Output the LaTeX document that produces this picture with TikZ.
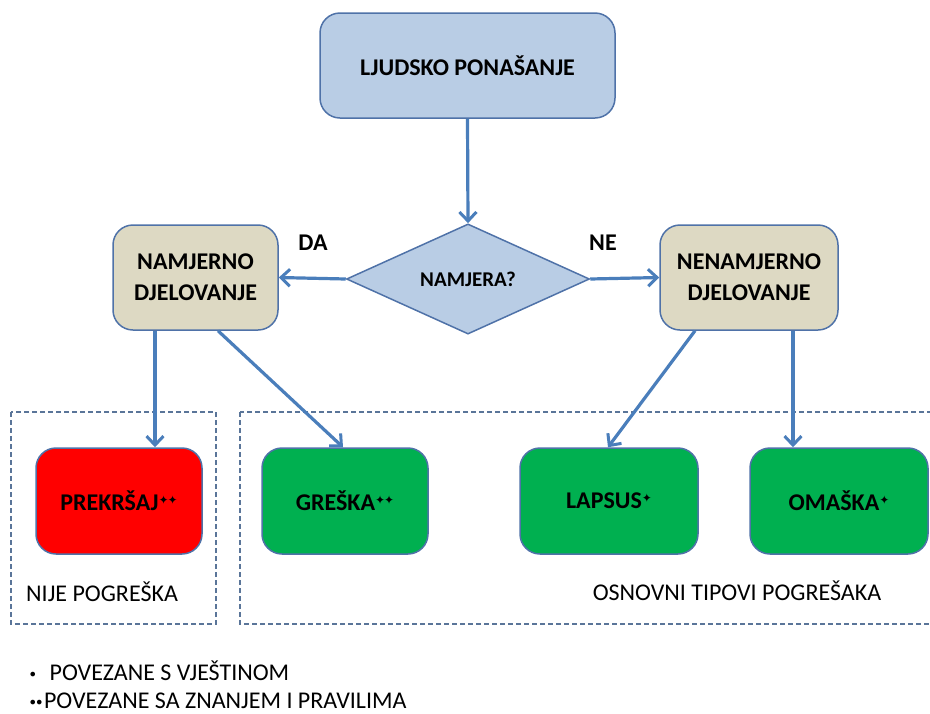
\documentclass[tikz,border=0pt]{standalone}
\usepackage{fontspec}
\setmainfont{Carlito}
\newfontfamily\symfont{DejaVu Sans}
\usetikzlibrary{arrows.meta,shapes.geometric}
\definecolor{bluefill}{HTML}{B9CDE5}
\definecolor{boxline}{HTML}{4F72A8}
\definecolor{tanfill}{HTML}{DDD9C3}
\definecolor{redfill}{HTML}{FF0000}
\definecolor{greenfill}{HTML}{00B050}
\definecolor{arrowcol}{HTML}{4A7EBB}
\definecolor{dashcol}{HTML}{5A7599}
\newcommand{\onestar}{\raisebox{0.5ex}{\symfont\fontsize{12}{12}\selectfont ✦}}
\newcommand{\twostar}{\raisebox{0.5ex}{\symfont\fontsize{12}{12}\selectfont ✦\kern-1pt✦}}
\begin{document}
\begin{tikzpicture}[x=1pt,y=-1pt,
  rbox/.style={draw=boxline, line width=1.5pt, rounded corners=20pt, inner sep=0pt, align=center,
    font=\fontsize{24}{31}\selectfont\bfseries},
  conn/.style={draw=arrowcol, line width=3.2pt, -{Straight Barb[length=9pt,width=17pt,line width=3pt]}},
  dashbox/.style={draw=dashcol, line width=1.3pt, dash pattern=on 5pt off 3pt},
  lbl/.style={font=\fontsize{24}{28}\selectfont\bfseries, inner sep=0pt},
  plain/.style={font=\fontsize{24}{28}\selectfont, inner sep=0pt, anchor=west}
]
\useasboundingbox (0,0) rectangle (930,713);
% dashed group boxes
\draw[dashbox] (11,412) rectangle (216,624);
\begin{scope}
\clip (0,0) rectangle (930,713);
\draw[dashbox] (240,412) rectangle (950,624);
\end{scope}
% nodes
\node[rbox, fill=bluefill, minimum width=295pt, minimum height=105pt] (top) at (467.5,65.5) {LJUDSKO PONAŠANJE};
\node[draw=boxline, line width=1.5pt, fill=bluefill, shape=diamond, minimum width=243pt, minimum height=102pt, inner sep=0pt,
  font=\fontsize{21}{24}\selectfont\bfseries] (dec) at (468,279) {NAMJERA?};
\node[rbox, fill=tanfill, minimum width=165pt, minimum height=105pt] (left) at (195.5,277.5) {NAMJERNO\\DJELOVANJE};
\node[rbox, fill=tanfill, minimum width=178pt, minimum height=105pt] (right) at (749,277.5) {NENAMJERNO\\DJELOVANJE};
\node[rbox, fill=redfill, minimum width=166pt, minimum height=106pt] (red) at (119,501) {PREKRŠAJ\twostar};
\node[rbox, fill=greenfill, minimum width=166pt, minimum height=106pt] (greska) at (345,501) {GREŠKA\twostar};
\node[rbox, fill=greenfill, minimum width=178pt, minimum height=106pt] (lapsus) at (609,501) {LAPSUS\onestar};
\node[rbox, fill=greenfill, minimum width=178pt, minimum height=106pt] (omaska) at (839,501) {OMAŠKA\onestar};
% labels
\node[lbl] (da) at (313,243) {DA};
\node[lbl] (ne) at (603,243) {NE};
\node[plain] (nije) at (26,592) {NIJE POGREŠKA};
\node[plain, anchor=center] (osn) at (737,591) {OSNOVNI TIPOVI POGREŠAKA};
\node[plain, anchor=base west] (leg1) at (28,680) {\symfont\fontsize{16}{16}\selectfont •\hspace{12pt}\fontsize{24}{28}\selectfont\rmfamily POVEZANE S VJEŠTINOM};
\node[plain, anchor=base west] (leg2) at (28,708) {\symfont\fontsize{16}{16}\selectfont •\kern-3pt•\rmfamily\fontsize{24}{28}\selectfont POVEZANE SA ZNANJEM I PRAVILIMA};
% connectors
\draw[conn] (top.south) -- (dec.north);
\draw[conn] (dec.west) -- (left.east);
\draw[conn] (dec.east) -- (right.west);
\draw[conn] ([xshift=-40.5pt]left.south) -- ([xshift=-40.5pt]left.south |- red.north);
\draw[conn] ([xshift=22.5pt]left.south) -- ([xshift=-2pt]greska.north);
\draw[conn] ([xshift=-54pt]right.south) -- ([xshift=-1pt]lapsus.north);
\draw[conn] ([xshift=44pt]right.south) -- ([xshift=44pt]right.south |- omaska.north);
\end{tikzpicture}
\end{document}
